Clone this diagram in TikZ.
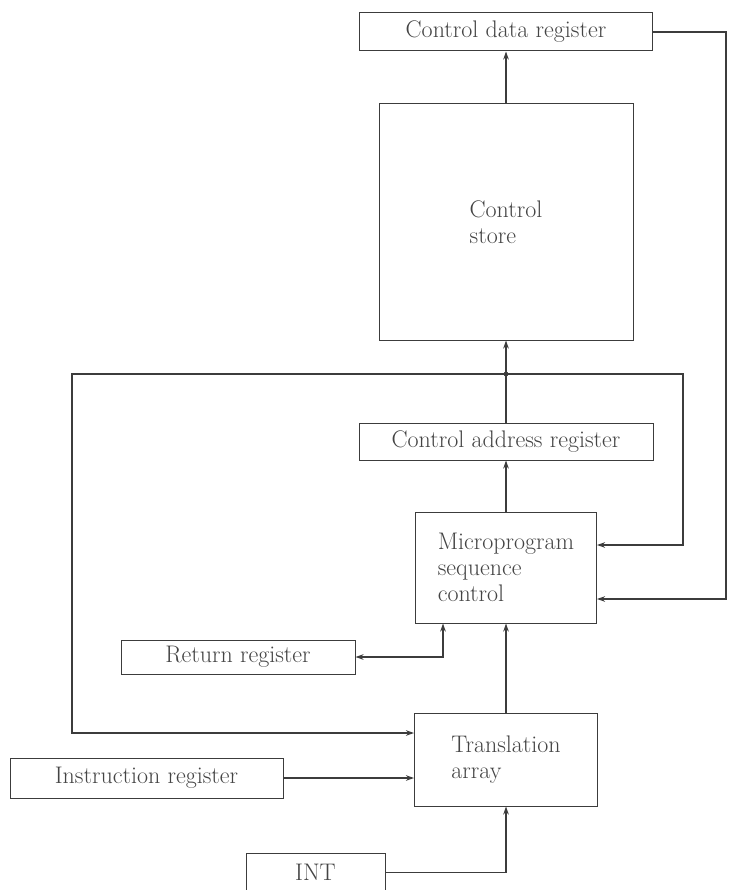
\documentclass[tikz,border=0pt]{standalone}
\usetikzlibrary{arrows.meta}
\definecolor{ink}{HTML}{3C3C3C}
\definecolor{txt}{HTML}{444444}
\begin{document}
\begin{tikzpicture}[x=1pt,y=-1pt,
  box/.style={draw=ink,line width=1pt,inner sep=0pt,text=txt,font=\fontsize{24}{26}\selectfont},
  thinline/.style={draw=ink,line width=1.1pt},
  thickline/.style={draw=ink,line width=1.8pt},
  tip/.tip={Stealth[length=8pt,width=5.5pt]},
  arr/.style={-tip}]
\useasboundingbox[fill=white] (0,0) rectangle (728,890);
% boxes
\node[box,minimum width=293pt,minimum height=38pt] (cdr) at (506,32) {Control data register};
\node[box,minimum width=254pt,minimum height=236pt,align=left] (cs) at (506,222) {Control\\store};
\node[box,minimum width=294pt,minimum height=37pt] (car) at (506,441.5) {Control address register};
\node[box,minimum width=181pt,minimum height=111pt,align=left] (msc) at (506,567.5) {Microprogram\\sequence\\control};
\node[box,minimum width=234pt,minimum height=34pt] (rr) at (238,657) {Return register};
\node[box,minimum width=183pt,minimum height=93pt,align=left] (ta) at (506,759.5) {Translation\\array};
\node[box,minimum width=273pt,minimum height=40pt] (ir) at (146.5,778) {Instruction register};
\node[box,minimum width=139pt,minimum height=38pt] (int) at (315.5,872.5) {INT};
% coordinates
\coordinate (J) at (506,374);
\coordinate (L1) at (72,374);
\coordinate (L2) at (72,733);
\coordinate (R1) at (683,374);
\coordinate (R2) at (683,545);
\coordinate (O1) at (726,32);
\coordinate (O2) at (726,599);
\coordinate (RT) at (443,657);
\coordinate (IT) at (506,872.5);
% connectors
\draw[thinline,arr] (cs.north) -- (cdr.south);
\draw[thickline] (car.north) -- (J);
\draw[thickline,arr] (J) -- (cs.south);
\fill[ink] (J) circle (2.4pt);
\draw[thickline,arr] (J) -- (L1) -- (L2) -- (L2 -| ta.west);
\draw[thickline,arr] (J) -- (R1) -- (R2) -- (R2 -| msc.east);
\draw[thinline,arr] (cdr.east) -- (O1) -- (O2) -- (O2 -| msc.east);
\draw[thinline,arr] (msc.north) -- (car.south);
\draw[thickline,tip-tip] (rr.east) -- (RT) -- (RT |- msc.south);
\draw[thickline,arr] (ta.north) -- (msc.south);
\draw[thickline,arr] (ir.east) -- (ir.east -| ta.west);
\draw[thickline,arr] (int.east) -- (IT) -- (ta.south);
\end{tikzpicture}
\end{document}
